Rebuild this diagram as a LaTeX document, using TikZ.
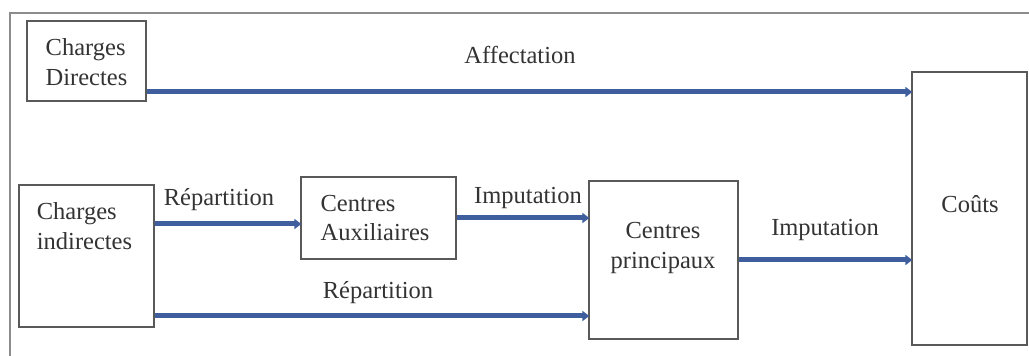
\documentclass[tikz,border=0pt]{standalone}
\usepackage{fontspec}
\setmainfont{Liberation Serif}
\usetikzlibrary{arrows.meta,calc}
\begin{document}
\begin{tikzpicture}[x=1pt,y=1pt,
  box/.style={draw=black!65,line width=1.3pt,rectangle,inner sep=0pt},
  txt/.style={font=\fontsize{24.5}{29.5}\selectfont,text=black!80,align=left,inner sep=0pt},
  arr/.style={draw={rgb,255:red,62;green,94;blue,158},line width=5pt,
    -{Triangle[length=7pt,width=10pt]},shorten >=-1pt},
  frame/.style={draw=black!45,line width=2pt}]
\useasboundingbox (0,0) rectangle (1029,356);
\coordinate (ftl) at (10,343);
\coordinate (ftr) at (1029,343);
\coordinate (fbl) at (10,0);
\draw[frame] (fbl) -- (ftl) -- (ftr);
% boxes
\node[box,minimum width=119pt,minimum height=80pt] (cd) at (86.5,295) {};
\node[box,minimum width=135pt,minimum height=142pt] (ci) at (86.5,100) {};
\node[box,minimum width=155pt,minimum height=82pt] (ca) at (378.5,138) {};
\node[box,minimum width=149pt,minimum height=158pt] (cp) at (663.5,96) {};
\node[box,minimum width=115pt,minimum height=273pt] (co) at (969.5,147.5) {};
% box texts
\node[txt] (tcd) at (86.5,294) {Charges\\Directes};
\node[txt] (tci) at (84.5,130) {Charges\\indirectes};
\node[txt] (tca) at (375,138) {Centres\\Auxiliaires};
\node[txt,align=center] (tcp) at (663,108) {Centres\\principaux};
\node[txt] (tco) at (970,152) {Coûts};
% connectors
\coordinate (aff) at (0,264);
\coordinate (rep1) at (0,132);
\coordinate (rep2) at (0,40);
\draw[arr] (cd.east |- aff) -- (co.west |- aff);
\draw[arr] (ci.east |- rep1) -- (ca.west |- rep1);
\draw[arr] (ca.east) -- (ca.east -| cp.west);
\draw[arr] (ci.east |- rep2) -- (cp.west |- rep2);
\draw[arr] (cp.east) -- (cp.east -| co.west);
% labels
\node[txt] (laff) at (520,301) {Affectation};
\node[txt] (lrep1) at (219,156) {Répartition};
\node[txt] (limp1) at (528,158) {Imputation};
\node[txt] (lrep2) at (378,63) {Répartition};
\node[txt] (limp2) at (825,126) {Imputation};
\end{tikzpicture}
\end{document}
